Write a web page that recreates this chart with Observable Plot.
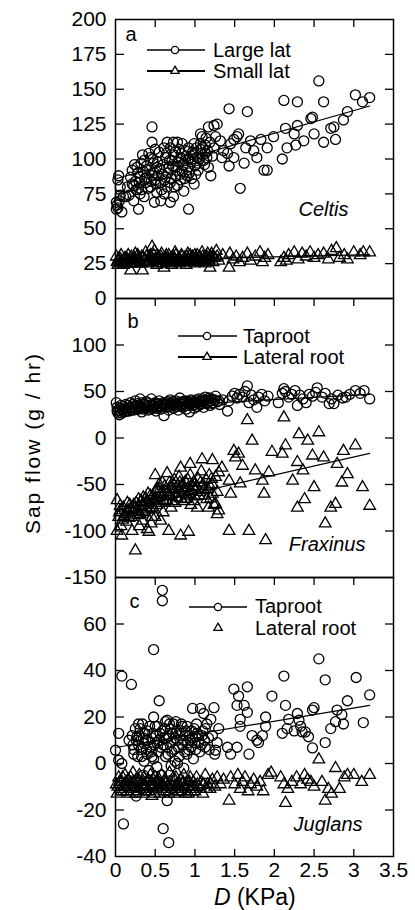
<!DOCTYPE html>
<html><head><meta charset="utf-8">
<script src="https://cdn.jsdelivr.net/npm/d3@7"></script>
<script src="https://cdn.jsdelivr.net/npm/@observablehq/plot@0.6"></script>
<style>
body{margin:0;background:#fff;}
#chart{width:415px;height:910px;}
#chart svg{display:block;overflow:visible;}
</style></head><body><div id="chart"></div>
<script>
// ---------- DATA: [D (KPa), sap flow (g/hr)] ----------
const celtisLarge = [[0.01,69],[0.02,67],[0.01,64],[0.03,65],[0.03,85],[0.04,88],[0.05,70],[0.06,74],[0.06,80],[0.08,62],[0.1,73],[0.13,73],[0.15,80],[0.17,74],[0.19,87],[0.21,92],[0.23,81],[0.23,70],[0.25,84],[0.27,94],[0.29,64],[0.29,79],[0.31,75],[0.31,87],[0.34,103],[0.36,73],[0.36,99],[0.38,83],[0.4,87],[0.42,104],[0.44,80],[0.44,101],[0.46,123],[0.46,112],[0.46,88],[0.48,97],[0.49,69],[0.5,85],[0.5,107],[0.52,94],[0.52,76],[0.55,105],[0.57,70],[0.57,83],[0.59,89],[0.61,75],[0.61,108],[0.63,101],[0.63,87],[0.65,80],[0.65,112],[0.67,94],[0.69,69],[0.69,108],[0.69,83],[0.71,99],[0.73,112],[0.73,103],[0.73,73],[0.76,94],[0.76,88],[0.78,112],[0.78,81],[0.8,107],[0.82,101],[0.82,85],[0.84,91],[0.84,111],[0.86,77],[0.88,99],[0.88,106],[0.9,88],[0.92,64],[0.92,100],[0.92,108],[0.97,100],[0.97,105],[0.99,82],[0.99,111],[1.01,89],[1.03,101],[1.03,97],[1.07,107],[1.07,118],[1.07,111],[1.09,116],[1.11,99],[1.13,104],[1.13,110],[1.15,101],[1.17,123],[1.17,94],[1.2,88],[1.24,108],[1.24,124],[1.26,116],[1.28,125],[1.32,113],[1.34,101],[1.36,106],[1.41,104],[1.43,136],[1.43,95],[1.45,111],[1.49,101],[1.49,114],[1.53,116],[1.55,118],[1.57,79],[1.62,97],[1.64,108],[1.66,134],[1.7,113],[1.74,106],[1.78,101],[1.83,114],[1.87,92],[1.91,92],[1.91,108],[1.99,116],[2.1,100],[2.12,142],[2.14,122],[2.16,108],[2.25,118],[2.27,110],[2.29,124],[2.29,141],[2.37,113],[2.46,129],[2.48,130],[2.5,118],[2.56,156],[2.62,141],[2.62,112],[2.71,122],[2.75,123],[2.77,114],[2.87,128],[2.92,134],[3.02,146],[3.11,141],[3.2,144],
  [0.21,82],[0.24,96],[0.26,78],[0.28,90],[0.3,83],[0.32,97],[0.33,78],[0.35,91],[0.37,86],[0.39,95],[0.41,79],[0.43,92],[0.45,84],[0.47,100],[0.49,90],[0.51,82],[0.53,98],[0.54,88],[0.56,93],[0.58,78],[0.6,96],[0.62,85],[0.64,104],[0.66,90],[0.68,99],[0.7,86],[0.72,95],[0.74,80],[0.75,105],[0.77,92],[0.79,98],[0.81,89],[0.83,104],[0.85,96],[0.87,86],[0.89,102],[0.91,94],[0.93,90],[0.95,98],[0.96,86],[0.98,103],[1.0,95],[1.02,108],[1.04,92],[1.06,100],[1.08,104],[1.1,108],[1.12,96],[1.14,115],[1.16,106],[1.19,112],[1.22,102]];
const celtisSmall = [[0.01,30],[0.02,26],[0.03,24],[0.04,28],[0.06,25],[0.08,27],[0.1,24],[0.12,29],[0.14,26],[0.16,31],[0.18,25],[0.19,20],[0.21,28],[0.23,27],[0.25,32],[0.27,25],[0.29,29],[0.31,26],[0.33,30],[0.34,20],[0.36,27],[0.38,33],[0.4,25],[0.42,29],[0.44,31],[0.46,37],[0.47,26],[0.49,34],[0.5,28],[0.52,24],[0.54,30],[0.56,27],[0.58,32],[0.6,25],[0.61,22],[0.63,29],[0.65,26],[0.67,31],[0.69,27],[0.71,24],[0.73,30],[0.75,33],[0.77,26],[0.79,28],[0.81,25],[0.83,31],[0.85,27],[0.87,29],[0.89,24],[0.91,32],[0.93,26],[0.95,28],[0.97,30],[0.99,25],[1.01,27],[1.03,31],[1.05,29],[1.07,26],[1.09,33],[1.11,28],[1.13,25],[1.15,30],[1.17,27],[1.19,22],[1.21,32],[1.23,26],[1.25,29],[1.27,34],[1.3,27],[1.35,31],[1.43,22],[1.44,32],[1.48,28],[1.52,30],[1.56,26],[1.6,29],[1.66,32],[1.7,27],[1.76,30],[1.82,33],[1.85,26],[1.88,29],[1.92,31],[2.08,26],[2.12,29],[2.15,27],[2.18,31],[2.25,33],[2.3,28],[2.35,32],[2.4,30],[2.45,33],[2.5,29],[2.55,31],[2.62,32],[2.68,28],[2.72,34],[2.78,36],[2.82,29],[2.88,31],[2.92,28],[3.0,33],[3.08,31],[3.12,33],[3.2,33],
  [0.03,27],[0.05,29],[0.07,31],[0.09,26],[0.11,28],[0.13,25],[0.15,28],[0.17,27],[0.2,30],[0.22,25],[0.24,29],[0.26,27],[0.28,31],[0.3,28],[0.32,25],[0.35,29],[0.37,28],[0.39,30],[0.41,27],[0.43,26],[0.45,29],[0.48,31],[0.51,27],[0.53,29],[0.55,25],[0.57,30],[0.59,28],[0.62,27],[0.64,31],[0.66,28],[0.68,25],[0.7,29],[0.72,27],[0.74,28],[0.76,31],[0.78,27],[0.8,29],[0.82,27],[0.84,30],[0.86,26],[0.88,28],[0.9,30],[0.92,28],[0.94,31],[0.96,27],[0.98,29],[1.0,31],[1.02,28],[1.04,26],[1.06,30],[1.08,28],[1.1,30],[1.12,27],[1.14,29],[1.16,32],[1.18,28],[1.2,30],[1.24,29],[1.28,30]];
const fraxinusTap = [[0.01,38],[0.02,33],[0.03,27],[0.04,30],[0.05,25],[0.07,35],[0.09,30],[0.11,28],[0.13,36],[0.15,32],[0.17,29],[0.19,38],[0.21,33],[0.23,30],[0.25,40],[0.27,35],[0.29,31],[0.31,42],[0.33,28],[0.35,36],[0.37,33],[0.39,39],[0.41,30],[0.43,35],[0.45,42],[0.47,32],[0.49,37],[0.51,29],[0.53,34],[0.55,40],[0.57,31],[0.59,36],[0.61,24],[0.63,38],[0.65,33],[0.67,30],[0.69,41],[0.71,35],[0.73,32],[0.75,38],[0.77,34],[0.79,30],[0.81,43],[0.83,36],[0.85,33],[0.87,39],[0.89,31],[0.91,37],[0.93,28],[0.95,41],[0.97,35],[0.99,32],[1.01,38],[1.03,34],[1.05,42],[1.07,36],[1.09,39],[1.11,33],[1.13,44],[1.15,37],[1.17,40],[1.19,35],[1.21,42],[1.23,38],[1.26,45],[1.28,39],[1.31,36],[1.35,41],[1.41,29],[1.43,40],[1.47,45],[1.5,48],[1.53,43],[1.56,47],[1.6,44],[1.63,50],[1.66,56],[1.68,38],[1.71,46],[1.74,41],[1.78,33],[1.8,44],[1.84,47],[1.88,40],[1.92,45],[2.05,38],[2.1,48],[2.12,53],[2.14,50],[2.18,44],[2.22,47],[2.26,51],[2.29,35],[2.32,46],[2.36,42],[2.4,38],[2.44,47],[2.48,45],[2.52,49],[2.54,54],[2.6,44],[2.64,48],[2.69,37],[2.72,42],[2.75,37],[2.8,46],[2.86,43],[2.9,44],[2.95,47],[3.02,51],[3.08,48],[3.13,51],[3.2,42],
  [0.02,29],[0.06,32],[0.08,27],[0.1,34],[0.12,31],[0.14,29],[0.16,35],[0.18,32],[0.2,30],[0.22,36],[0.24,33],[0.26,31],[0.28,37],[0.3,34],[0.32,32],[0.34,38],[0.36,31],[0.38,35],[0.4,33],[0.42,37],[0.44,31],[0.46,36],[0.48,34],[0.5,38],[0.52,32],[0.54,37],[0.56,35],[0.58,33],[0.6,38],[0.62,35],[0.64,36],[0.66,39],[0.68,34],[0.7,37],[0.72,39],[0.74,35],[0.76,40],[0.78,36],[0.8,38],[0.82,34],[0.84,39],[0.86,37],[0.88,40],[0.9,35],[0.92,39],[0.94,37],[0.96,40],[0.98,38],[1.0,36],[1.02,41],[1.04,38],[1.06,40],[1.08,37],[1.1,42],[1.12,39],[1.14,41],[1.16,38],[1.18,43],[1.2,40],[1.22,37],[1.25,41],[1.3,40]];
const fraxinusLat = [[0.02,-67],[0.06,-73],[0.04,-85],[0.02,-100],[0.08,-105],[0.05,-80],[0.07,-95],[0.09,-88],[0.1,-75],[0.12,-82],[0.14,-90],[0.16,-78],[0.18,-72],[0.2,-85],[0.21,-100],[0.22,-80],[0.24,-76],[0.25,-121],[0.26,-70],[0.28,-83],[0.3,-74],[0.3,-95],[0.32,-68],[0.34,-79],[0.34,-89],[0.36,-72],[0.38,-65],[0.4,-77],[0.4,-98],[0.42,-70],[0.42,-101],[0.44,-62],[0.45,-92],[0.46,-75],[0.46,-85],[0.48,-67],[0.5,-58],[0.5,-40],[0.5,-85],[0.52,-72],[0.54,-64],[0.55,-50],[0.56,-55],[0.57,-89],[0.58,-70],[0.6,-60],[0.6,-80],[0.62,-52],[0.64,-67],[0.65,-38],[0.66,-58],[0.67,-100],[0.68,-48],[0.7,-63],[0.7,-75],[0.72,-55],[0.74,-45],[0.75,-70],[0.76,-60],[0.78,-52],[0.8,-42],[0.82,-65],[0.82,-32],[0.82,-105],[0.84,-50],[0.85,-68],[0.86,-58],[0.88,-47],[0.9,-62],[0.92,-53],[0.92,-101],[0.94,-40],[0.94,-28],[0.95,-72],[0.96,-57],[0.98,-48],[1.0,-63],[1.02,-52],[1.03,-75],[1.04,-44],[1.06,-58],[1.08,-36],[1.09,-23],[1.1,-50],[1.12,-62],[1.14,-45],[1.16,-55],[1.17,-75],[1.18,-40],[1.2,-65],[1.22,-24],[1.22,-60],[1.22,-50],[1.24,-72],[1.26,-42],[1.26,-71],[1.28,-58],[1.28,-82],[1.3,-37],[1.3,-78],[1.34,-32],[1.43,-46],[1.45,-60],[1.43,-100],[1.49,-14],[1.51,-21],[1.55,-17],[1.57,-49],[1.6,-30],[1.66,19],[1.68,-100],[1.72,-3],[1.76,-35],[1.85,-46],[1.87,-60],[1.89,-110],[1.93,-37],[1.97,-15],[2.1,-17],[2.12,22],[2.14,-8],[2.23,-46],[2.29,-26],[2.29,-75],[2.31,4],[2.36,-35],[2.38,-66],[2.42,-3],[2.48,-19],[2.5,-53],[2.56,6],[2.62,-21],[2.64,-92],[2.71,-75],[2.77,-71],[2.79,-28],[2.85,-48],[2.87,-14],[2.92,-39],[3.02,-8],[3.11,-53],[3.2,-73],
  [0.06,-78],[0.11,-84],[0.15,-70],[0.17,-86],[0.19,-76],[0.23,-72],[0.27,-78],[0.29,-66],[0.31,-82],[0.33,-73],[0.35,-64],[0.37,-80],[0.39,-69],[0.41,-60],[0.43,-75],[0.47,-62],[0.49,-77],[0.51,-65],[0.53,-55],[0.55,-70],[0.57,-60],[0.59,-48],[0.61,-68],[0.63,-58],[0.67,-62],[0.69,-54],[0.71,-68],[0.73,-50],[0.77,-64],[0.79,-56],[0.81,-48],[0.83,-60],[0.87,-54],[0.89,-66],[0.91,-45],[0.93,-60],[0.97,-52],[0.99,-68],[1.01,-56],[1.05,-62],[1.07,-48],[1.11,-56],[1.15,-66],[1.19,-52],[1.21,-44]];
const juglansTap = [[0.59,74.5],[0.59,70],[0.48,49],[0.08,37.6],[0.2,34],[0.55,27],[0.04,13],[0.0,5.7],[0.1,-26],[0.26,-14],[0.65,-16],[0.6,-28],[0.67,-34],[0.48,20],[0.29,17],[0.04,1.4],[0.08,0],[0.17,10],[0.23,4],[0.27,11.5],[0.36,8.6],[0.4,4],[0.46,3],[0.52,-1.4],[0.63,3],[0.65,18.6],[0.76,13],[0.78,0],[0.84,16],[0.9,4],[0.97,23.7],[1.01,11.5],[1.07,23.7],[1.11,21.5],[1.13,7],[1.2,19],[1.24,24],[1.26,5.7],[1.3,15],[1.41,7],[1.45,4],[1.49,32],[1.53,25],[1.53,7],[1.55,29],[1.57,19],[1.57,16],[1.62,25],[1.66,33],[1.66,22],[1.68,4],[1.72,12],[1.78,10],[1.8,9],[1.85,12],[1.89,16],[1.89,20],[1.97,29],[2.1,13],[2.12,37.6],[2.14,25],[2.16,15],[2.18,19],[2.25,14],[2.29,21.5],[2.31,18.6],[2.33,16],[2.35,13.6],[2.39,13.6],[2.43,11.5],[2.48,6.7],[2.48,23],[2.5,24],[2.56,45],[2.64,36],[2.64,9],[2.71,15],[2.77,18],[2.79,23],[2.85,21],[2.87,17],[2.92,27],[3.03,37],[3.12,17.6],[3.2,29.5],[0.22,8],[0.25,15],[0.28,3],[0.3,12],[0.32,6],[0.34,17],[0.36,1],[0.38,10],[0.4,14],[0.42,-3],[0.44,7],[0.46,11],[0.48,2],[0.5,16],[0.52,9],[0.54,5],[0.56,13],[0.58,-5],[0.6,8],[0.62,15],[0.64,11],[0.66,4],[0.68,17],[0.7,9],[0.72,13],[0.74,6],[0.76,18],[0.78,10],[0.8,3],[0.82,14],[0.84,8],[0.86,-2],[0.88,12],[0.9,16],[0.92,6],[0.94,10],[0.96,14],[0.98,2],[1.0,9],[1.02,17],[1.04,12],[1.06,5],[1.08,8],[1.1,14],[1.12,10],[1.15,17],[1.18,6],[1.22,12],[1.25,4],[1.28,9],[0.7,-1],[0.75,1],[0.55,-8],[0.45,-10],[0.35,-5],[0.27,-8],
  [0.21,12],[0.23,6],[0.26,10],[0.29,8],[0.31,15],[0.33,3],[0.35,11],[0.37,13],[0.39,6],[0.41,10],[0.43,16],[0.45,5],[0.47,13],[0.49,8],[0.51,12],[0.53,16],[0.55,10],[0.57,7],[0.59,14],[0.61,11],[0.63,18],[0.65,7],[0.67,12],[0.69,15],[0.71,5],[0.73,17],[0.75,11],[0.77,14],[0.79,7],[0.81,12],[0.83,17],[0.85,10],[0.87,5],[0.89,14],[0.91,9],[0.93,12],[0.95,7],[0.97,11],[0.99,15],[1.01,6],[1.03,13],[1.05,9],[1.09,12],[1.13,15],[1.17,11]];
const juglansLat = [[0.01,-9],[0.02,-13],[0.04,-6],[0.06,-11],[0.08,-8],[0.1,-12],[0.12,-5],[0.14,-10],[0.16,-7],[0.18,-13],[0.2,-9],[0.22,-4],[0.24,-11],[0.26,-7],[0.28,-12],[0.3,-5],[0.32,-9],[0.34,-13],[0.36,-6],[0.38,-10],[0.4,-8],[0.42,-12],[0.44,-5],[0.46,-14],[0.48,-9],[0.5,-6],[0.52,-11],[0.54,-8],[0.56,-13],[0.58,-5],[0.6,-10],[0.62,-7],[0.64,-12],[0.66,-9],[0.68,-4],[0.7,-11],[0.72,-8],[0.74,-13],[0.76,-6],[0.78,-10],[0.8,-12],[0.82,-7],[0.84,-9],[0.86,-5],[0.88,-11],[0.9,-8],[0.92,-13],[0.94,-6],[0.96,-10],[0.98,-8],[1.0,-12],[1.02,-6],[1.05,-10],[1.08,-8],[1.1,-13],[1.13,-5],[1.16,-9],[1.19,-11],[1.22,-7],[1.25,-10],[1.28,-6],[1.32,-9],[1.36,-7],[1.43,-16],[1.45,-6],[1.5,-9],[1.54,-5],[1.57,-11],[1.6,-8],[1.63,-6],[1.67,-12],[1.7,-9],[1.74,-7],[1.78,-10],[1.82,-8],[1.86,-12],[1.92,-5],[1.96,-4],[2.08,-6],[2.12,-9],[2.14,-17],[2.17,-11],[2.22,-8],[2.28,-6],[2.33,-9],[2.38,-5],[2.42,-7],[2.46,-8],[2.5,-10],[2.56,1.7],[2.6,-8],[2.64,-16],[2.68,-11],[2.72,-13],[2.77,-2],[2.82,-11],[2.88,-6],[2.92,-5],[3.0,-5],[3.1,-8],[3.2,-5],
  [0.03,-10],[0.05,-8],[0.07,-12],[0.09,-6],[0.11,-10],[0.13,-8],[0.15,-12],[0.17,-9],[0.19,-6],[0.21,-11],[0.23,-8],[0.25,-13],[0.27,-10],[0.29,-7],[0.31,-11],[0.33,-8],[0.35,-11],[0.37,-9],[0.39,-12],[0.41,-7],[0.43,-10],[0.45,-8],[0.47,-11],[0.49,-13],[0.51,-8],[0.53,-10],[0.55,-7],[0.57,-11],[0.59,-9],[0.61,-12],[0.63,-8],[0.65,-10],[0.67,-13],[0.69,-8],[0.71,-10],[0.73,-6],[0.75,-11],[0.77,-9],[0.79,-12],[0.81,-10],[0.83,-12],[0.85,-8],[0.87,-10],[0.89,-13],[0.91,-10],[0.93,-8],[0.95,-12],[0.97,-11],[0.99,-10],[1.03,-9],[1.07,-11],[1.11,-9],[1.15,-11],[1.2,-9]];
// fitted lines (end points)
const fitCeltisLarge = [[0.02,86],[3.2,138]];
const fitCeltisSmall = [[0.02,27],[3.2,31.5]];
const fitFraxinusTap = [[0.02,32],[3.2,47]];
const fitFraxinusLat = [[0.02,-78],[3.2,-16.5]];
const fitJuglansTap = [[0.02,7],[3.2,25]];
// axes
const xDomain = [0, 3.5];
const xTickLabels = [0, 0.5, 1, 1.5, 2, 2.5, 3, 3.5];
const xInnerTicks = [0.5, 1, 1.5, 2, 2.5, 3];
const yDomainA = [0, 200], yLabelsA = [0,25,50,75,100,125,150,175,200], yTicksA = [25,50,75,100,125,150,175];
const yDomainB = [-150, 150], yLabelsB = [-150,-100,-50,0,50,100], yTicksB = [-100,-50,0,50,100];
const yDomainC = [-40, 80], yLabelsC = [-40,-20,0,20,40,60], yTicksC = [-20,0,20,40,60];
const legendA = ["Large lat", "Small lat"];
const legendB = ["Taproot", "Lateral root"];
const legendC = ["Taproot", "Lateral root"];

// ---------- LAYOUT ----------
const W = 415, ML = 115, MR = 22, PH = 279, PW = W - ML - MR;
const FONT = "'Liberation Sans', Arial, Helvetica, sans-serif";
const fmt = d => String(d);
const X = d => d[0], Y = d => d[1];

function panel({yDomain, yLabels, yTicks, marginTop, marginBottom, extra, circles, triangles, fits, letter, letterDx, letterDy, species, spDx, spDy, bottom}) {
  const marks = [
    Plot.frame({stroke: "black", strokeWidth: 1.5}),
    Plot.axisY(yLabels, {anchor: "left", tickSize: 0, tickPadding: 9, tickFormat: fmt, fontSize: 21, label: null}),
    Plot.axisY(yTicks, {anchor: "right", tickSize: 8, text: null, dx: -PW, label: null, strokeWidth: 1.3}),
    Plot.axisY(yTicks, {anchor: "left", tickSize: 8, text: null, dx: PW, label: null, strokeWidth: 1.3}),
    Plot.axisX(xInnerTicks, {anchor: "bottom", tickSize: 8, text: null, dy: -PH, label: null, strokeWidth: 1.3}),
    Plot.dot(circles, {x: X, y: Y, r: 5, stroke: "black", strokeWidth: 1.3, fill: "none"}),
    Plot.dot(triangles, {x: X, y: Y, symbol: "triangle", r: 4.3, stroke: "black", strokeWidth: 1.3, fill: "none"}),
    ...fits.map(f => Plot.line(f, {x: X, y: Y, stroke: "black", strokeWidth: 1.2})),
    Plot.text([letter], {frameAnchor: "top-left", dx: letterDx, dy: letterDy, textAnchor: "start", lineAnchor: "bottom", fontSize: 20}),
    Plot.text([species], {frameAnchor: "bottom-right", dx: spDx, dy: spDy, textAnchor: "end", lineAnchor: "bottom", fontSize: 20, fontStyle: "italic"}),
    ...(extra || [])
  ];
  if (bottom) {
    marks.push(
      Plot.axisX(xInnerTicks, {anchor: "top", tickSize: 8, text: null, dy: PH, label: null, strokeWidth: 1.3}),
      Plot.axisX(xTickLabels, {anchor: "bottom", tickSize: 0, tickPadding: 6, tickFormat: fmt, fontSize: 21, label: null})
    );
  }
  return Plot.plot({
    width: W, height: marginTop + PH + marginBottom,
    marginLeft: ML, marginRight: MR, marginTop, marginBottom,
    x: {domain: xDomain, axis: null},
    y: {domain: yDomain, axis: null},
    style: {fontFamily: FONT, fontSize: "21px", background: "transparent", overflow: "visible", color: "black"},
    marks
  });
}

function addLegend(svg, {rows, x1, x2, sx, tx}) {
  const g = d3.select(svg).append("g").attr("font-family", FONT).attr("font-size", 20).attr("fill", "black").attr("text-anchor", "start");
  rows.forEach(r => {
    if (r.line) g.append("line").attr("x1", x1).attr("x2", x2).attr("y1", r.y).attr("y2", r.y).attr("stroke", "black").attr("stroke-width", r.lw);
    if (r.sym === "circle") {
      g.append("circle").attr("cx", sx).attr("cy", r.y).attr("r", 3.6).attr("fill", "white").attr("stroke", "black").attr("stroke-width", 1.3);
    } else {
      g.append("path").attr("d", d3.symbol(d3.symbolTriangle, 30)()).attr("transform", `translate(${sx},${r.y})`).attr("fill", "white").attr("stroke", "black").attr("stroke-width", 1.3);
    }
    g.append("text").attr("x", tx).attr("y", r.base).attr("text-anchor", "start").text(r.text);
  });
}

const chart = document.getElementById("chart");

const pA = panel({yDomain: yDomainA, yLabels: yLabelsA, yTicks: yTicksA, marginTop: 19, marginBottom: 0,
  circles: celtisLarge, triangles: celtisSmall, fits: [fitCeltisLarge, fitCeltisSmall],
  letter: "a", letterDx: 10, letterDy: 21, species: "Celtis", spDx: -45, spDy: -83});
const pB = panel({yDomain: yDomainB, yLabels: yLabelsB, yTicks: yTicksB, marginTop: 0, marginBottom: 0,
  circles: fraxinusTap, triangles: fraxinusLat, fits: [fitFraxinusTap, fitFraxinusLat],
  letter: "b", letterDx: 12, letterDy: 29, species: "Fraxinus", spDx: -28, spDy: -27,
  extra: [Plot.text(["Sap flow (g / hr)"], {frameAnchor: "left", dx: -82, dy: 5, rotate: -90, textAnchor: "middle", lineAnchor: "middle", fontSize: 21})]});
const pC = panel({yDomain: yDomainC, yLabels: yLabelsC, yTicks: yTicksC, marginTop: 0, marginBottom: 54,
  circles: juglansTap, triangles: juglansLat, fits: [fitJuglansTap],
  letter: "c", letterDx: 14, letterDy: 30, species: "Juglans", spDx: -31, spDy: -26, bottom: true,
  extra: [
    Plot.text(["D"], {frameAnchor: "bottom", dx: -24, dy: 48, textAnchor: "end", lineAnchor: "bottom", fontSize: 23, fontStyle: "italic"}),
    Plot.text([" (KPa)"], {frameAnchor: "bottom", dx: -24, dy: 48, textAnchor: "start", lineAnchor: "bottom", fontSize: 23})
  ]});

chart.append(pA, pB, pC);

addLegend(pA, {x1: 147, x2: 205, sx: 175, tx: 213, rows: [
  {y: 50, base: 57, text: legendA[0], sym: "circle", line: true, lw: 1.3},
  {y: 71, base: 78, text: legendA[1], sym: "triangle", line: true, lw: 1.8}]});
addLegend(pB, {x1: 178, x2: 237, sx: 207, tx: 243, rows: [
  {y: 38, base: 45, text: legendB[0], sym: "circle", line: true, lw: 1.5},
  {y: 59, base: 66, text: legendB[1], sym: "triangle", line: true, lw: 1.8}]});
addLegend(pC, {x1: 189, x2: 247, sx: 218, tx: 255, rows: [
  {y: 30, base: 36, text: legendC[0], sym: "circle", line: true, lw: 1.5},
  {y: 51, base: 58, text: legendC[1], sym: "triangle", line: false, lw: 0}]});

d3.select(pB).selectAll("text").filter(function(){ return this.textContent === "Sap flow (g / hr)"; }).attr("letter-spacing", "2px");
</script></body></html>
